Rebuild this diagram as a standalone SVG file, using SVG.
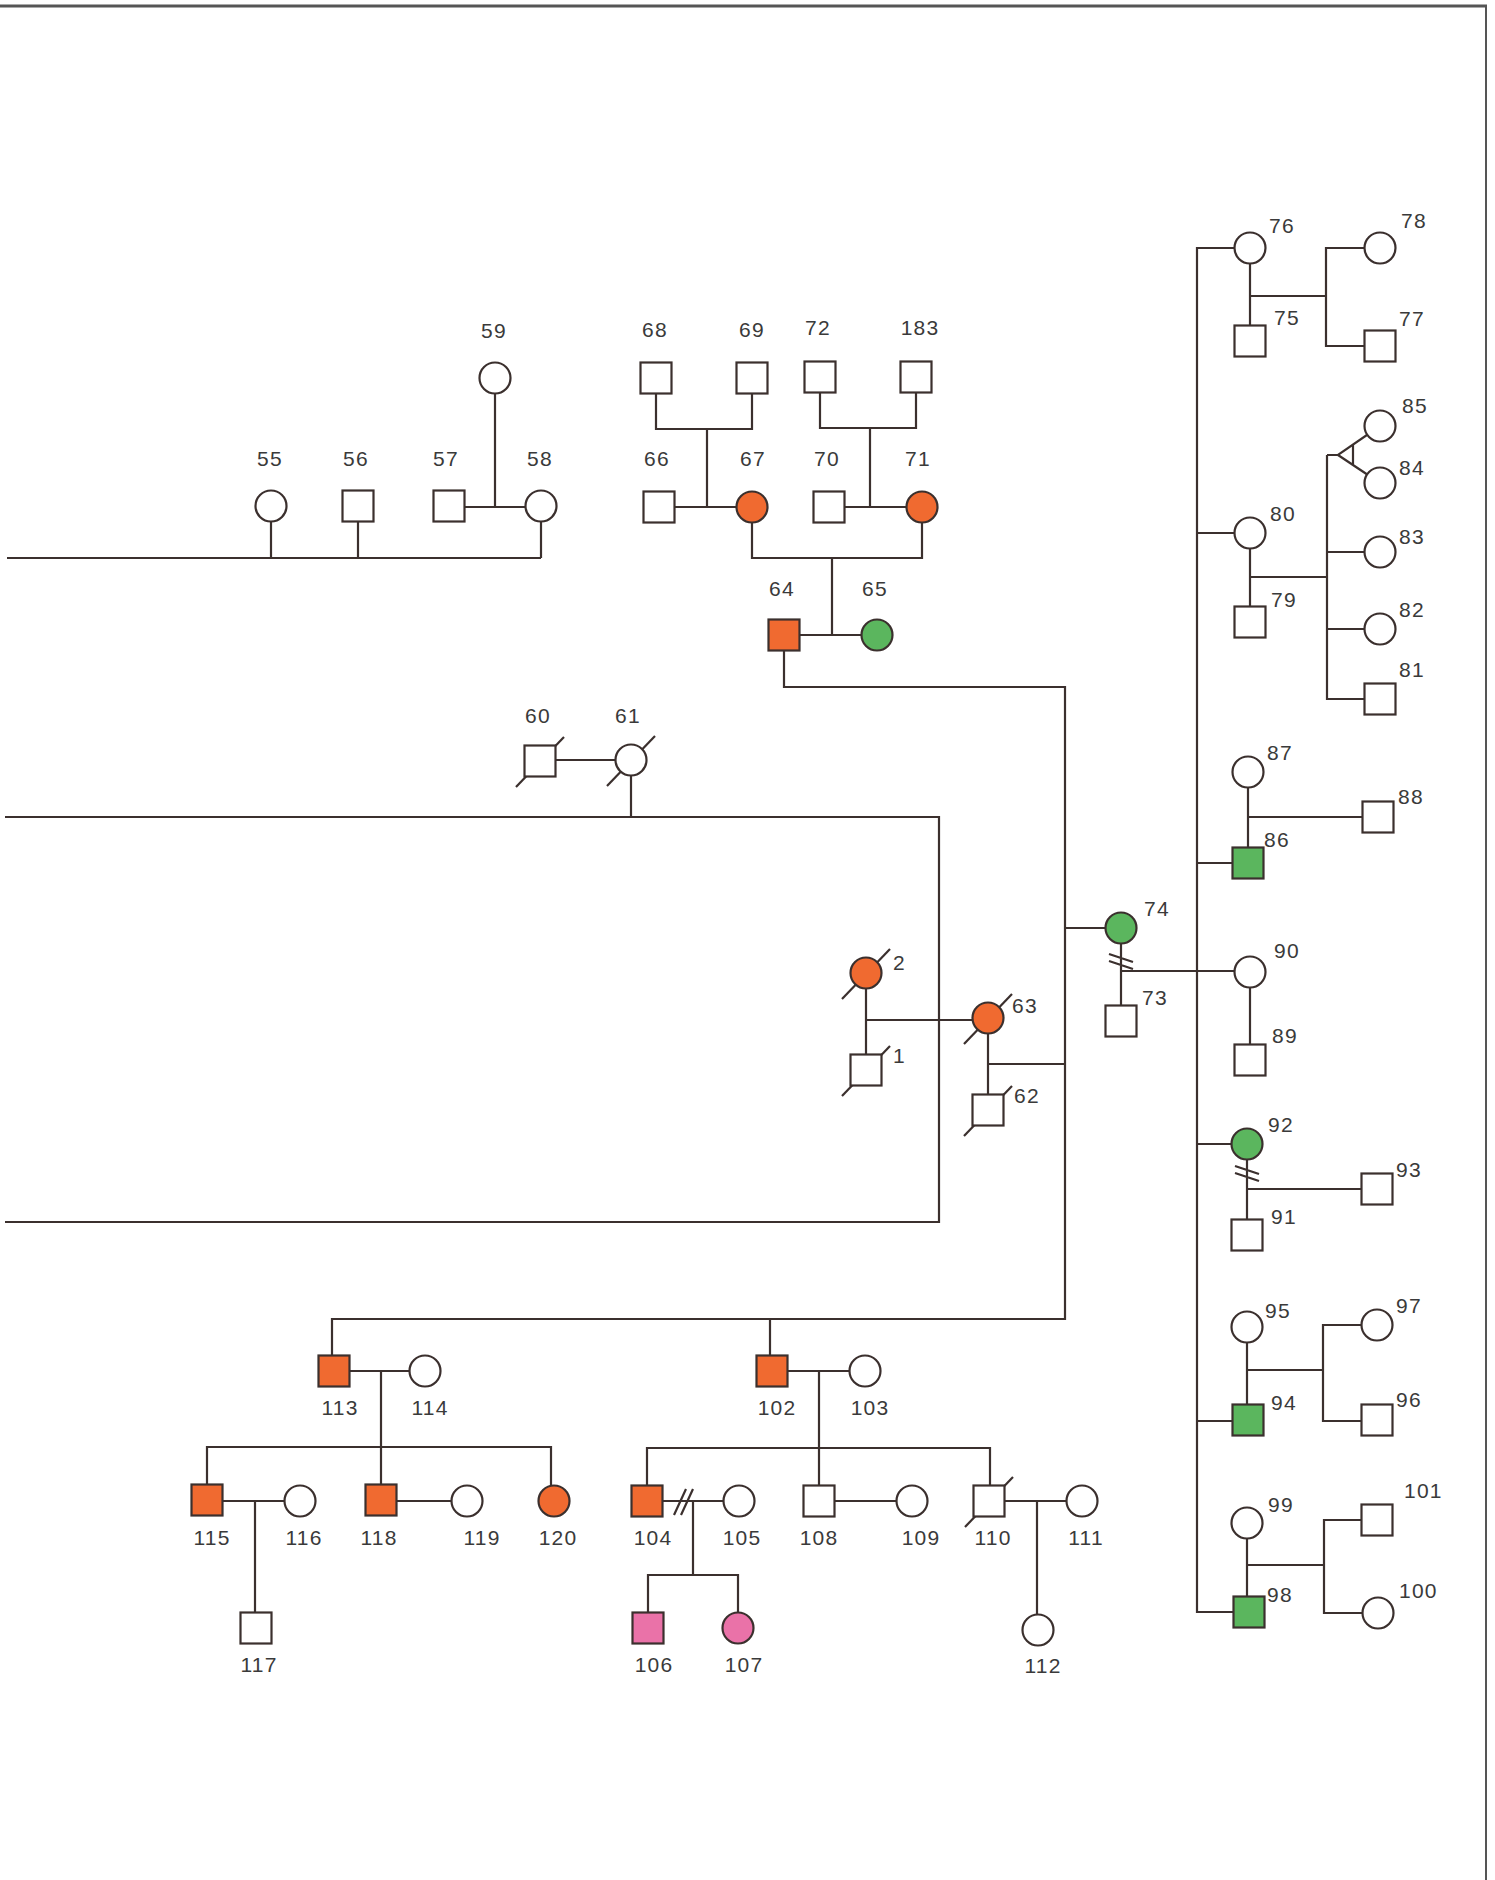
<svg xmlns="http://www.w3.org/2000/svg" width="1495" height="1880" viewBox="0 0 1495 1880">
<style>
.l{fill:none;stroke:#3b302e;stroke-width:2.2}
.n{fill:#fff;stroke:#3b302e;stroke-width:2.2}
.o{fill:#f06a30}
.g{fill:#5bb65e}
.p{fill:#ea72a8}
.d{fill:none;stroke:#3b302e;stroke-width:2.2}
text{font-family:"Liberation Sans",Arial,sans-serif;font-size:21px;letter-spacing:1.2px;fill:#3a3a3a}
.m{text-anchor:middle}
</style>
<defs>
<rect id="sq" x="-15.5" y="-15.5" width="31" height="31"/>
<circle id="ci" r="15.5"/>
<path id="dc" d="M-24 26 L24 -24"/>
</defs>
<rect width="1495" height="1880" fill="#fff"/>
<g id="border" fill="none">
<path d="M0 6 H1487" stroke="#555" stroke-width="3"/>
<path d="M1486 6 V1880" stroke="#555" stroke-width="2"/>
</g>
<g id="connectors" class="l">
<path d="M7 558 H541 M271 521 V558 M358 521 V558 M541 521 V558 M465 507 H526 M495 393 V507"/>
<path d="M656 393 V429 H752 V393 M707 429 V507 M675 507 H737 M820 392 V428 H916 V392 M870 428 V507 M845 507 H907 M752 522 V558 H922 V522 M832 558 V635 M800 635 H862"/>
<path d="M784 651 V687 H1065 V1319 H332 V1356 M770 1319 V1356 M1065 928 H1106 M988 1033 V1095 M988 1064 H1065 M866 988 V1055 M866 1020 H973"/>
<path d="M5 817 H939 V1222 H5 M631 775 V817 M556 760 H616"/>
<path d="M1121 943 V1006 M1121 971 H1235 M1109 954 L1133 962 M1109 961 L1133 969"/>
<path d="M1234 248 H1197 V1612 H1233 M1197 533 H1235 M1197 863 H1232 M1197 1144 H1232 M1197 1421 H1232"/>
<path d="M1250 263 V326 M1250 296 H1326 M1364 248 H1326 V346 H1364"/>
<path d="M1250 548 V607 M1250 577 H1327 M1327 455 V699 H1364 M1327 552 H1364 M1327 629 H1364 M1327 455 H1338 L1380 426 M1338 455 L1380 483 M1353 445 V465"/>
<path d="M1248 787 V848 M1248 817 H1362 M1250 987 V1044"/>
<path d="M1247 1159 V1220 M1247 1189 H1362 M1235 1166 L1259 1174 M1235 1173 L1259 1181"/>
<path d="M1247 1342 V1404 M1248 1370 H1323 M1362 1325 H1323 V1421 H1362"/>
<path d="M1247 1538 V1597 M1248 1565 H1324 M1362 1520 H1324 V1613 H1363"/>
<path d="M350 1371 H410 M381 1371 V1447 M207 1484 V1447 H551 V1486 M381 1447 V1484 M222 1501 H285 M255 1501 V1612 M397 1501 H452"/>
<path d="M788 1371 H850 M819 1371 V1448 M647 1485 V1448 H990 V1485 M819 1448 V1485 M663 1501 H724 M674 1515 L686 1489 M681 1515 L693 1489 M693 1501 V1575 M648 1613 V1575 H738 V1613 M834 1501 H897 M1004 1501 H1067 M1037 1501 V1615"/>
</g>
<g id="n55"><use href="#ci" x="271" y="506" class="n"/><text x="270" y="466" class="m">55</text></g>
<g id="n56"><use href="#sq" x="358" y="506" class="n"/><text x="356" y="466" class="m">56</text></g>
<g id="n57"><use href="#sq" x="449" y="506" class="n"/><text x="446" y="466" class="m">57</text></g>
<g id="n58"><use href="#ci" x="541" y="506" class="n"/><text x="540" y="466" class="m">58</text></g>
<g id="n59"><use href="#ci" x="495" y="378" class="n"/><text x="494" y="338" class="m">59</text></g>
<g id="n68"><use href="#sq" x="656" y="378" class="n"/><text x="655" y="337" class="m">68</text></g>
<g id="n69"><use href="#sq" x="752" y="378" class="n"/><text x="752" y="337" class="m">69</text></g>
<g id="n72"><use href="#sq" x="820" y="377" class="n"/><text x="818" y="335" class="m">72</text></g>
<g id="n183"><use href="#sq" x="916" y="377" class="n"/><text x="920" y="335" class="m">183</text></g>
<g id="n66"><use href="#sq" x="659" y="507" class="n"/><text x="657" y="466" class="m">66</text></g>
<g id="n67"><use href="#ci" x="752" y="507" class="n o"/><text x="753" y="466" class="m">67</text></g>
<g id="n70"><use href="#sq" x="829" y="507" class="n"/><text x="827" y="466" class="m">70</text></g>
<g id="n71"><use href="#ci" x="922" y="507" class="n o"/><text x="918" y="466" class="m">71</text></g>
<g id="n64"><use href="#sq" x="784" y="635" class="n o"/><text x="782" y="596" class="m">64</text></g>
<g id="n65"><use href="#ci" x="877" y="635" class="n g"/><text x="875" y="596" class="m">65</text></g>
<g id="n60"><use href="#dc" x="540" y="761" class="d"/><use href="#sq" x="540" y="761" class="n"/><text x="538" y="723" class="m">60</text></g>
<g id="n61"><use href="#dc" x="631" y="760" class="d"/><use href="#ci" x="631" y="760" class="n"/><text x="628" y="723" class="m">61</text></g>
<g id="n2"><use href="#dc" x="866" y="973" class="d"/><use href="#ci" x="866" y="973" class="n o"/><text x="893" y="970">2</text></g>
<g id="n1"><use href="#dc" x="866" y="1070" class="d"/><use href="#sq" x="866" y="1070" class="n"/><text x="893" y="1063">1</text></g>
<g id="n63"><use href="#dc" x="988" y="1018" class="d"/><use href="#ci" x="988" y="1018" class="n o"/><text x="1012" y="1013">63</text></g>
<g id="n62"><use href="#dc" x="988" y="1110" class="d"/><use href="#sq" x="988" y="1110" class="n"/><text x="1014" y="1103">62</text></g>
<g id="n74"><use href="#ci" x="1121" y="928" class="n g"/><text x="1144" y="916">74</text></g>
<g id="n73"><use href="#sq" x="1121" y="1021" class="n"/><text x="1142" y="1005">73</text></g>
<g id="n76"><use href="#ci" x="1250" y="248" class="n"/><text x="1269" y="233">76</text></g>
<g id="n75"><use href="#sq" x="1250" y="341" class="n"/><text x="1274" y="325">75</text></g>
<g id="n78"><use href="#ci" x="1380" y="248" class="n"/><text x="1401" y="228">78</text></g>
<g id="n77"><use href="#sq" x="1380" y="346" class="n"/><text x="1399" y="326">77</text></g>
<g id="n80"><use href="#ci" x="1250" y="533" class="n"/><text x="1270" y="521">80</text></g>
<g id="n79"><use href="#sq" x="1250" y="622" class="n"/><text x="1271" y="607">79</text></g>
<g id="n85"><use href="#ci" x="1380" y="426" class="n"/><text x="1402" y="413">85</text></g>
<g id="n84"><use href="#ci" x="1380" y="483" class="n"/><text x="1399" y="475">84</text></g>
<g id="n83"><use href="#ci" x="1380" y="552" class="n"/><text x="1399" y="544">83</text></g>
<g id="n82"><use href="#ci" x="1380" y="629" class="n"/><text x="1399" y="617">82</text></g>
<g id="n81"><use href="#sq" x="1380" y="699" class="n"/><text x="1399" y="677">81</text></g>
<g id="n87"><use href="#ci" x="1248" y="772" class="n"/><text x="1267" y="760">87</text></g>
<g id="n86"><use href="#sq" x="1248" y="863" class="n g"/><text x="1264" y="847">86</text></g>
<g id="n88"><use href="#sq" x="1378" y="817" class="n"/><text x="1398" y="804">88</text></g>
<g id="n90"><use href="#ci" x="1250" y="972" class="n"/><text x="1274" y="958">90</text></g>
<g id="n89"><use href="#sq" x="1250" y="1060" class="n"/><text x="1272" y="1043">89</text></g>
<g id="n92"><use href="#ci" x="1247" y="1144" class="n g"/><text x="1268" y="1132">92</text></g>
<g id="n91"><use href="#sq" x="1247" y="1235" class="n"/><text x="1271" y="1224">91</text></g>
<g id="n93"><use href="#sq" x="1377" y="1189" class="n"/><text x="1396" y="1177">93</text></g>
<g id="n95"><use href="#ci" x="1247" y="1327" class="n"/><text x="1265" y="1318">95</text></g>
<g id="n94"><use href="#sq" x="1248" y="1420" class="n g"/><text x="1271" y="1410">94</text></g>
<g id="n97"><use href="#ci" x="1377" y="1325" class="n"/><text x="1396" y="1313">97</text></g>
<g id="n96"><use href="#sq" x="1377" y="1420" class="n"/><text x="1396" y="1407">96</text></g>
<g id="n99"><use href="#ci" x="1247" y="1523" class="n"/><text x="1268" y="1512">99</text></g>
<g id="n98"><use href="#sq" x="1249" y="1612" class="n g"/><text x="1267" y="1602">98</text></g>
<g id="n101"><use href="#sq" x="1377" y="1520" class="n"/><text x="1404" y="1498">101</text></g>
<g id="n100"><use href="#ci" x="1378" y="1613" class="n"/><text x="1399" y="1598">100</text></g>
<g id="n113"><use href="#sq" x="334" y="1371" class="n o"/><text x="340" y="1415" class="m">113</text></g>
<g id="n114"><use href="#ci" x="425" y="1371" class="n"/><text x="430" y="1415" class="m">114</text></g>
<g id="n115"><use href="#sq" x="207" y="1500" class="n o"/><text x="212" y="1545" class="m">115</text></g>
<g id="n116"><use href="#ci" x="300" y="1501" class="n"/><text x="304" y="1545" class="m">116</text></g>
<g id="n117"><use href="#sq" x="256" y="1628" class="n"/><text x="259" y="1672" class="m">117</text></g>
<g id="n118"><use href="#sq" x="381" y="1500" class="n o"/><text x="379" y="1545" class="m">118</text></g>
<g id="n119"><use href="#ci" x="467" y="1501" class="n"/><text x="482" y="1545" class="m">119</text></g>
<g id="n120"><use href="#ci" x="554" y="1501" class="n o"/><text x="558" y="1545" class="m">120</text></g>
<g id="n102"><use href="#sq" x="772" y="1371" class="n o"/><text x="777" y="1415" class="m">102</text></g>
<g id="n103"><use href="#ci" x="865" y="1371" class="n"/><text x="870" y="1415" class="m">103</text></g>
<g id="n104"><use href="#sq" x="647" y="1501" class="n o"/><text x="653" y="1545" class="m">104</text></g>
<g id="n105"><use href="#ci" x="739" y="1501" class="n"/><text x="742" y="1545" class="m">105</text></g>
<g id="n106"><use href="#sq" x="648" y="1628" class="n p"/><text x="654" y="1672" class="m">106</text></g>
<g id="n107"><use href="#ci" x="738" y="1628" class="n p"/><text x="744" y="1672" class="m">107</text></g>
<g id="n108"><use href="#sq" x="819" y="1501" class="n"/><text x="819" y="1545" class="m">108</text></g>
<g id="n109"><use href="#ci" x="912" y="1501" class="n"/><text x="921" y="1545" class="m">109</text></g>
<g id="n110"><use href="#dc" x="989" y="1501" class="d"/><use href="#sq" x="989" y="1501" class="n"/><text x="993" y="1545" class="m">110</text></g>
<g id="n111"><use href="#ci" x="1082" y="1501" class="n"/><text x="1086" y="1545" class="m">111</text></g>
<g id="n112"><use href="#ci" x="1038" y="1630" class="n"/><text x="1043" y="1673" class="m">112</text></g>
</svg>
